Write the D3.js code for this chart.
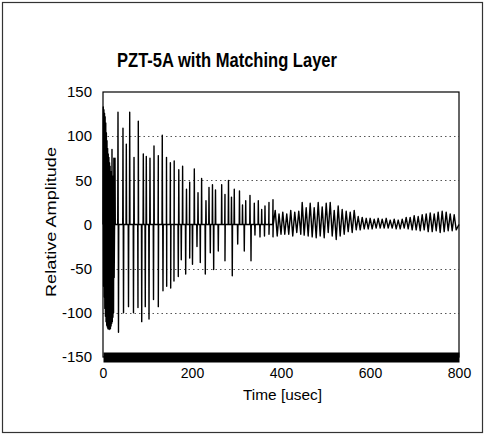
<!DOCTYPE html>
<html>
<head>
<meta charset="utf-8">
<script src="https://cdn.jsdelivr.net/npm/d3@7"></script>
<style>
  body { margin: 0; background: #fff; }
  svg { font-family: "Liberation Sans", Arial, sans-serif; }
</style>
</head>
<body>
<div id="chart"></div>
<script>
// axis ticks
const xTicks = [0, 200, 400, 600, 800];
const yTicks = [-150, -100, -50, 0, 50, 100, 150];
const gridValues = [-100, -50, 50, 100];

// initial ringing (usec, amplitude)
const burstTime = [0, 0.6, 1.3, 2.0, 2.7, 3.4, 4.1, 4.8, 5.5, 6.2, 6.9, 7.6, 8.3, 9.0, 9.7, 10.4, 11.1, 11.8, 12.5, 13.2,
  13.9, 14.6, 15.3, 16.0, 16.7, 17.4, 18.1, 18.8, 19.5, 20.2, 20.9, 21.6, 22.3, 23.0, 23.7, 24.4, 25.1, 26.0];
const burstAmp = [0, 133, -70, 130, -82, 126, -95, 122, -104, 115, -110, 104, -114, 95, -116, 86, -118, 80, -117, 76,
  -119, 70, -117, 66, -118, 60, -115, 58, -112, 85, -110, 55, -105, 50, -100, 75, -60, 0];

// echo spikes, positive side
const posTime = [27.0, 33.7, 44.9, 52.4, 60.0, 69.7, 79.3, 90.6, 97.3, 105.6, 114.6, 124.3, 133.2, 142.7, 151.4,
  160.0, 170.3, 178.9, 187.6, 194.8, 205.2, 213.5, 221.6, 231.4, 238.2, 246.0, 252.8, 266.7, 274.1, 282.0, 288.7,
  295.0, 306.7, 313.5, 320.7, 330.3, 340.0, 349.0, 356.6, 364.0, 373.0, 382.0];
const posAmp = [75, 127, 109, 91, 127, 76, 117, 80, 77, 75, 89, 78, 101, 76, 70,
  72, 62, 66, 40, 48, 63, 36, 52, 27, 42, 45, 39, 45, 34, 50, 31,
  40, 38, 22, 27, 33, 24, 27, 17, 21, 25, 28];

// echo spikes, negative side
const negTime = [34.8, 46.1, 57.3, 68.5, 78.6, 87.0, 95.0, 103.4, 113.5, 124.3, 134.8, 143.1, 152.1, 159.5, 169.2,
  175.9, 185.8, 194.8, 201.1, 211.2, 218.6, 229.9, 241.1, 248.7, 259.1, 274.1, 290.5, 302.7, 317.5, 332.6, 341.5,
  352.8, 362.9, 373.0, 382.0];
const negAmp = [-122, -100, -93, -100, -94, -110, -93, -107, -85, -93, -75, -70, -72, -64, -59,
  -40, -56, -38, -45, -25, -43, -56, -32, -51, -30, -41, -58, -22, -30, -41, -12,
  -14, -13, -11, -14];

// late ringing, one cycle per entry
const tailTime = [387.0, 395.5, 404.0, 412.9, 421.9, 430.9, 439.9, 447.6, 456.6, 465.6, 474.6, 483.6, 492.6, 501.6,
  510.6, 519.6, 528.5, 537.5, 546.5, 555.5, 564.5, 573.5, 582.5, 591.5, 600.4, 609.4, 618.4, 627.4, 636.4, 645.4,
  654.4, 663.4, 672.4, 681.3, 690.3, 699.3, 708.3, 717.3, 726.3, 735.3, 744.3, 753.2, 762.2, 771.2, 780.2, 789.2];
const tailHigh = [16, 12, 14, 12, 16, 14, 15, 25, 19, 24, 19, 25, 20, 24,
  25, 16, 21, 17, 15, 14, 16, 9, 8, 7, 7, 6, 7, 6, 7, 5,
  6, 5, 6, 8, 8, 10, 9, 11, 12, 13, 12, 14, 15, 14, 12, 11];
const tailLow = [-13, -11, -11, -11, -13, -9, -11, -12, -13, -14, -15, -13, -15, -9,
  -13, -17, -13, -11, -8, -9, -6, -6, -5, -5, -5, -4, -4, -4, -4, -4,
  -5, -5, -4, -5, -6, -6, -7, -6, -8, -8, -7, -9, -8, -7, -7, -6];

const width = 485, height = 435;
const plot = { left: 103, right: 459, top: 92, bottom: 357 };

const svg = d3.select('#chart').append('svg')
  .attr('width', width)
  .attr('height', height);

// outer frame of the figure
svg.append('rect')
  .attr('x', 2.5).attr('y', 2.5)
  .attr('width', 480).attr('height', 430)
  .attr('fill', 'none')
  .attr('stroke', '#333')
  .attr('stroke-width', 1.2);

const x = d3.scaleLinear().domain([0, 800]).range([plot.left, plot.right]);
const y = d3.scaleLinear().domain([-150, 150]).range([plot.bottom, plot.top]);

// dotted gridlines
svg.append('g')
  .selectAll('line')
  .data(gridValues)
  .join('line')
  .attr('x1', plot.left).attr('x2', plot.right)
  .attr('y1', d => Math.round(y(d)) + 0.5).attr('y2', d => Math.round(y(d)) + 0.5)
  .attr('stroke', '#555')
  .attr('stroke-width', 1)
  .attr('stroke-dasharray', '1.5,3');

// build the waveform
const wave = burstTime.map((t, i) => [t, burstAmp[i]]);
const spikes = [];
posTime.forEach((t, i) => spikes.push([t - 0.6, 0], [t, posAmp[i]], [t + 0.6, 0]));
negTime.forEach((t, i) => spikes.push([t - 0.6, 0], [t, negAmp[i]], [t + 0.6, 0]));
spikes.sort((a, b) => a[0] - b[0]);
spikes.forEach(p => wave.push(p));
tailTime.forEach((t, i) => {
  wave.push([t, tailHigh[i]], [t + 4.5, tailLow[i]]);
});
wave.push([800, 0]);

const line = d3.line()
  .x(d => x(d[0]))
  .y(d => y(d[1]));

svg.append('path')
  .datum(wave)
  .attr('fill', 'none')
  .attr('stroke', '#000')
  .attr('stroke-width', 1.4)
  .attr('stroke-linejoin', 'round')
  .attr('d', line);

// plot area border
svg.append('rect')
  .attr('x', plot.left).attr('y', plot.top)
  .attr('width', plot.right - plot.left)
  .attr('height', plot.bottom - plot.top)
  .attr('fill', 'none')
  .attr('stroke', '#000')
  .attr('stroke-width', 1.2);

// y axis
const yaxis = d3.axisLeft(y).tickValues(yTicks).tickFormat(d => String(d)).tickSize(0).tickPadding(11);
const gy = svg.append('g')
  .attr('transform', `translate(${plot.left}, 0)`)
  .call(yaxis);
gy.select('.domain').remove();
gy.selectAll('text')
  .attr('font-size', 15)
  .attr('font-family', '"Liberation Sans", Arial, sans-serif')
  .attr('fill', '#000');

// x axis, heavy baseline
const xaxis = d3.axisBottom(x).tickValues(xTicks).tickFormat(d => String(d)).tickSize(0).tickSizeOuter(0).tickPadding(11);
const gx = svg.append('g')
  .attr('transform', `translate(0, ${plot.bottom})`)
  .call(xaxis);
gx.select('.domain')
  .attr('stroke', '#000')
  .attr('stroke-width', 10);
gx.selectAll('text')
  .attr('font-size', 14)
  .attr('font-family', '"Liberation Sans", Arial, sans-serif')
  .attr('fill', '#000');

// title
svg.append('text')
  .attr('x', 227)
  .attr('y', 67)
  .attr('text-anchor', 'middle')
  .attr('font-size', 21)
  .attr('font-weight', 'bold')
  .attr('textLength', 220)
  .attr('lengthAdjust', 'spacingAndGlyphs')
  .text('PZT-5A with Matching Layer');

// axis titles
svg.append('text')
  .attr('x', 282.5)
  .attr('y', 400)
  .attr('text-anchor', 'middle')
  .attr('font-size', 15.5)
  .attr('textLength', 79)
  .attr('lengthAdjust', 'spacingAndGlyphs')
  .text('Time [usec]');

svg.append('text')
  .attr('transform', 'rotate(-90)')
  .attr('x', -222)
  .attr('y', 56)
  .attr('text-anchor', 'middle')
  .attr('font-size', 15.5)
  .attr('textLength', 150)
  .attr('lengthAdjust', 'spacingAndGlyphs')
  .text('Relative Amplitude');
</script>
</body>
</html>
